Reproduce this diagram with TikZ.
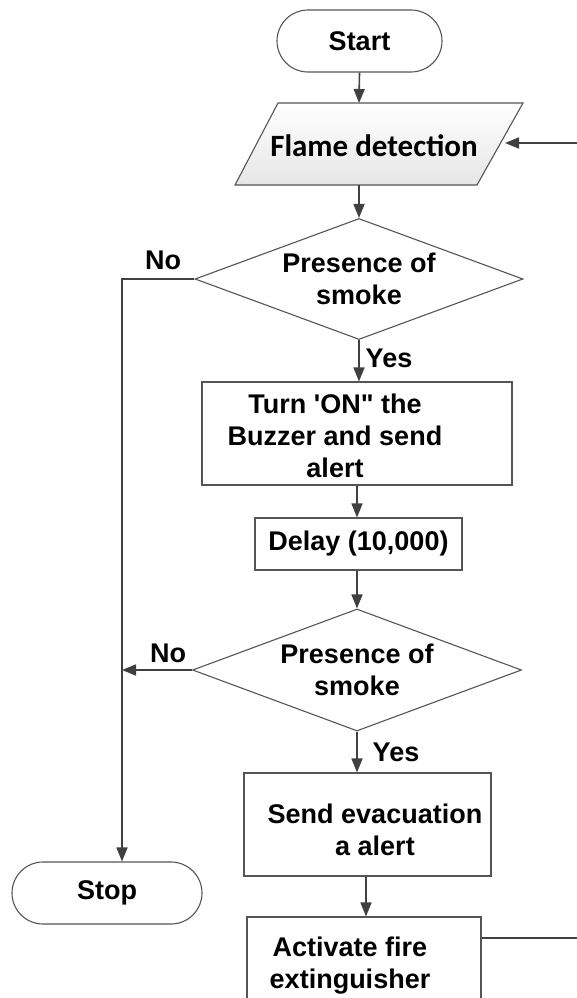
\documentclass[tikz,border=0pt]{standalone}
\usepackage{fontspec}
\setmainfont{Liberation Sans}[Ligatures=TeXOff]
\newfontfamily\calib{Carlito}
\usetikzlibrary{shapes.geometric,shapes.misc,arrows.meta}
\definecolor{lc}{HTML}{404040}
\definecolor{sc}{HTML}{555555}
\begin{document}
\begin{tikzpicture}[x=1pt,y=-1pt,
  conn/.style={draw=lc, line width=1.6pt},
  arr/.style={conn, -{Triangle[length=14pt,width=11pt]}},
  outl/.style={draw=sc, line width=1.1pt},
  txt/.style={font=\fontsize{27}{32}\selectfont\bfseries, align=center, inner sep=0pt},
  term/.style={rounded rectangle, outl, txt},
  proc/.style={rectangle, outl, txt},
  dec/.style={diamond, shape aspect=2.7, outl, txt}]
\useasboundingbox (0,0) rectangle (577,998);
\fill[white] (0,0) rectangle (577,998);
\clip (0,0) rectangle (577,998);

% nodes
\node[term, minimum width=165pt, minimum height=62pt] (start) at (359.5,41) {Start};
\path[outl, top color=white, bottom color=gray!20] (278,103) -- (523,103) -- (477,185) -- (235,185) -- cycle;
\node[font=\calib\fontsize{31}{36}\selectfont\bfseries, inner sep=0pt] (fd) at (374,146) {Flame detection};
\coordinate (fdtop) at (359,103);
\coordinate (fdbot) at (359,185);
\coordinate (fdright) at (505,143);
\coordinate (rin) at (577,143);

\node[dec, minimum width=328pt, minimum height=121pt] (d1) at (359,279) {Presence of\\smoke};
\node[proc, minimum width=310pt, minimum height=103pt] (b1) at (357,433.5) {};
\node[txt] (t1) at (335,436) {Turn 'ON" the\\Buzzer and send\\alert};
\node[proc, minimum width=207pt, minimum height=52pt] (b2) at (358.5,544) {Delay (10,000)};
\node[dec, minimum width=329pt, minimum height=122pt] (d2) at (357,670) {Presence of\\smoke};
\node[proc, minimum width=247pt, minimum height=103pt] (b3) at (367.5,824.5) {};
\node[txt] (t3) at (375,830) {Send evacuation\\a alert};
\node[proc, minimum width=234pt, minimum height=110pt] (b4) at (364,972) {};
\node[txt] (t4) at (350,966) {Activate fire\\extinguisher};
\node[term, minimum width=190pt, minimum height=62pt] (stop) at (107,893) {Stop};

\coordinate (c1) at (122,279);
\coordinate (b34) at (366,0);
\coordinate (rout) at (577,938);

% labels
\node[txt] (no1) at (163,260) {No};
\node[txt] (yes1) at (389,358) {Yes};
\node[txt] (no2) at (168,653) {No};
\node[txt] (yes2) at (396,752) {Yes};

% connectors
\draw[arr] (start.south) -- (fdtop);
\draw[arr] (fdbot) -- (d1.north);
\draw[arr] (rin) -- (fdright);
\draw[arr] (d1.south) -- (d1.south |- b1.north);
\draw[arr] (b1.south) -- (b1.south |- b2.north);
\draw[arr] (b2.south -| d2.north) -- (d2.north);
\draw[arr] (d2.south) -- (d2.south |- b3.north);
\draw[arr] (b3.south -| b34) -- (b4.north -| b34);
\draw[arr] (d1.west) -- (c1) -- (c1 |- stop.north);
\draw[arr] (d2.west) -- (d2.west -| c1);
\draw[conn] (b4.east |- rout) -- (rout);
\end{tikzpicture}
\end{document}
